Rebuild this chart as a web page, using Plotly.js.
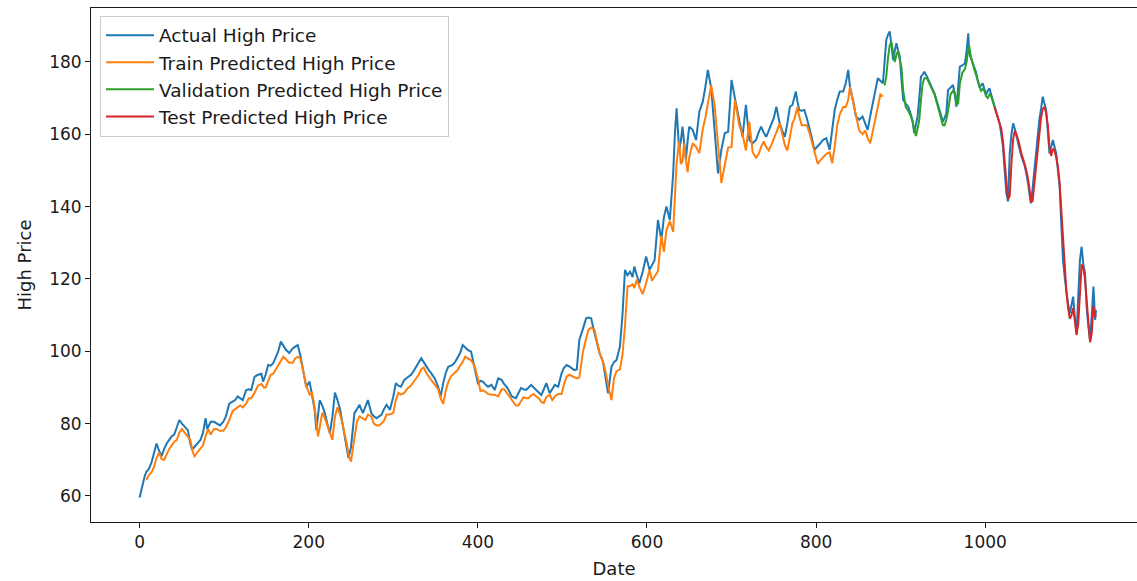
<!DOCTYPE html>
<html>
<head>
<meta charset="utf-8">
<script src="https://cdn.plot.ly/plotly-3.0.1.min.js"></script>
<style>html,body{margin:0;padding:0;background:#fff}#chart{width:1137px;height:581px}</style>
</head>
<body>
<div id="chart"></div>
<script>
const seriesNames = ["Actual High Price", "Train Predicted High Price", "Validation Predicted High Price", "Test Predicted High Price"];
const xTicks = [0, 200, 400, 600, 800, 1000];
const yTicks = [60, 80, 100, 120, 140, 160, 180];

const actualX = [0,3,6,8,11,14,17,20,23,26,29,32,35,38,41,44,47,50,53,57,60,62,65,68,72,75,78,80,84,88,91,95,99,102,106,110,113,116,119,122,126,129,132,136,140,144,146,149,152,155,158,161,164,167,170,173,177,181,184,187,190,193,197,201,204,207,209,213,216,219,222,225,228,231,234,237,240,242,245,247,250,254,257,260,264,267,270,274,277,280,283,286,289,292,296,300,303,306,309,313,317,321,324,327,330,333,336,339,342,345,349,353,356,359,362,365,368,370,373,376,379,382,385,388,392,396,400,403,406,409,412,416,420,424,428,431,434,437,440,445,448,451,454,457,460,463,466,469,472,475,478,481,485,488,491,495,499,502,505,508,511,514,517,520,524,528,531,534,538,541,544,548,551,554,558,561,564,568,571,574,577,580,583,585,588,591,595,599,603,606,609,613,617,620,623,627,631,633,635,638,640,642,644,646,648,650,654,658,662,666,669,672,676,680,684,688,692,696,700,704,707,709,713,717,721,725,729,732,735,738,741,744,747,750,753,757,760,763,766,769,772,774,776,778,780,783,786,789,792,795,798,802,805,808,812,816,819,822,825,828,832,835,838,840,844,847,851,855,858,861,864,867,870,873,876,879,881,883,885,887,889,891,893,895,897,899,901,903,906,909,912,914,916,918,920,922,924,926,928,931,934,937,940,943,946,948,950,952,954,956,959,962,964,966,968,970,973,976,978,980,981,983,985,987,989,991,993,995,997,999,1001,1003,1005,1007,1009,1011,1013,1015,1017,1019,1021,1023,1025,1027,1029,1031,1033,1035,1037,1040,1043,1047,1050,1052,1054,1056,1058,1061,1064,1066,1068,1070,1072,1074,1076,1078,1080,1082,1084,1086,1088,1090,1092,1094,1096,1098,1100,1102,1104,1106,1108,1110,1112,1114,1116,1118,1120,1122,1124,1126,1128,1130,1131];
const actualY = [59.6,63,65.5,66.7,67.5,69.2,72,74.5,72.5,71,73,74.5,75.5,76.5,77,79,81,80,79.2,78.2,74.5,72.8,73.6,74.5,75.5,77.5,81.5,78.5,80.5,80.5,80,79.5,80.5,82,85.5,86,86.5,87.5,87,86.5,89.3,89.5,89.3,93,93.5,93.8,91.6,93.5,96.2,96,96.7,98.5,100,102.7,101.5,100.4,99.5,100.8,101.3,101.7,99,95.3,90.2,91.6,88,83.8,78.2,86.5,85,82.9,80,77.3,82,88.6,86.5,84,80,77.3,73,70.5,73.5,82.9,84,85.2,82.9,84.5,86.5,82.9,82,81.5,82,82.4,84,85.2,83.8,87.5,91.2,90.5,90.2,92.1,92.8,93.5,94.5,95.7,97,98.1,97,95.7,94.8,93.9,92.5,90.2,87.5,91.2,94,95.7,96,96.2,97,98.1,99.5,101.7,101,100.4,99.9,95.7,91.2,91.8,91.6,90.8,90.2,90.7,89.3,92.5,92.1,91,90.2,89,87.5,87,88.5,89.8,89.5,89.3,90,90.7,90,89.3,88.5,87.9,89.5,91.2,88.4,89.5,90.7,90.2,93.9,95.5,96.2,95.8,95.3,94.8,95,103.1,106,109.1,109.3,109.1,105,102,99.5,97.1,93,88.4,95.7,97,97.6,101.3,110,122.5,121,122,120.5,123.4,121,118.8,122,126.2,122.5,124,125.2,136.3,130.8,137,140,136.3,149.2,160,167.2,155.7,158,162.1,157,152.9,158,162.1,161.2,158.4,166.3,169,173,177.8,172.7,162.1,149.2,155.7,160.3,160.7,175,169.9,166,164.4,159.3,168.1,158.4,157.5,158.4,160.5,162.1,160.5,159.3,161,163,164.5,167.6,163,161,159.3,163,167.6,168.1,170,171.8,169,166.7,166.5,166.7,164.5,162.1,159,155.7,156.6,157.5,158.4,158.9,155.7,161,166.7,169.5,171.8,171.8,174,177.8,173.2,169,165,164,164.9,163,161.2,165,168.6,172,175.5,174.8,174.1,180,186.1,187.5,188.4,185,180.5,183,185.2,183,181.5,175,169.5,168.5,167.6,165.5,163.9,160.3,162.5,164.9,170,175.9,176.5,177.3,176,174.5,173,171.3,169,166.7,165,163.5,164.5,165.8,172.2,173,173.6,171,167.6,173,178.7,179,179.6,183,187.9,182.4,181,179.6,178.5,177.3,175,173.2,173.5,174.1,172.5,170.9,172,172.7,171,169.5,167.5,165.8,164.5,163,160,156.6,150,143.7,141.4,154.7,160,163,161.5,159.8,156.5,153.8,151,147.4,144,140.9,145,150.1,157,164,167,170.4,168.5,166.7,161,154.7,156.5,158.4,156.5,154.7,150,145.5,135,125.2,120.5,116,113,110.5,113,115.1,109,105,115,125.2,128.9,124,121.6,112,106.8,103.1,110,117.9,108.7,111.4];

const trainX = [8,11,14,17,20,23,26,29,32,35,38,41,44,47,50,53,57,60,63,65,68,72,75,78,81,84,88,91,95,99,102,106,110,113,116,119,122,126,129,132,136,140,144,147,149,152,155,158,161,164,167,170,173,177,181,184,187,190,193,197,201,204,207,209,211,213,216,219,222,225,228,231,234,237,240,242,245,247,250,254,257,260,264,267,270,274,277,280,283,286,289,292,296,300,303,306,309,313,317,321,324,327,330,333,336,339,342,345,349,353,356,359,362,365,368,370,373,376,379,382,385,388,392,396,400,403,406,409,412,416,420,424,428,431,434,437,440,445,448,451,454,457,460,463,466,469,472,475,478,481,485,488,491,495,499,502,505,508,511,514,517,520,524,528,531,534,538,541,544,548,551,554,558,561,564,568,571,574,577,580,583,585,588,591,595,599,603,606,609,613,617,620,623,627,631,633,635,638,640,642,644,646,648,650,654,658,662,666,669,672,676,680,684,688,692,696,700,704,707,709,713,717,721,725,729,732,735,738,741,744,747,750,753,757,760,763,766,769,772,774,776,778,780,783,786,789,792,795,798,802,805,808,812,816,819,822,825,828,832,835,838,840,844,847,851,855,858,861,864,867,870,873,876,879];
const trainY = [64.5,65.8,66.5,68,70.5,72,70.2,70,71.5,73,74,75,75.5,77.5,78.5,77.5,76.5,75.5,72,71,72,73.2,74,76.5,78.5,77,78.5,78.5,78,78,79,81,83.5,84,84.5,85,84.5,85.5,87,87,88.5,90.5,91,90,90,92,93.5,93.8,95,96.5,97.5,98.5,97.8,96.8,96.8,98,98.5,98,95,90.5,88,88.5,84.5,80,76.5,79,83,81.5,79.5,77,75.5,82,84.5,82.5,80,77.5,74.5,71.5,69.5,76,80.5,82,81.5,81,82.5,82,80,79.5,79.5,80,80.8,82.5,82.5,83,86.5,88.5,88,88.5,89.8,90.5,91.5,92.5,93.5,95,95.5,94,92.8,92,90.8,89.5,87,85.5,89,91.5,93,93.5,94,94.8,96,97,98.5,98,97.5,96,92.5,89,89.2,88.8,88.2,88,88,87.5,89.5,89.5,88.5,87.8,86.8,85,85,86,87.3,87,87,87.8,88.2,87.5,87,86,85.7,87.3,88,86.5,87.5,88.2,88.2,91,93,93.5,93.2,92.8,92.5,92.8,99.5,103.5,106,106.5,106,102.5,99.5,97,94.5,90.5,86.5,92.5,94.5,95,99,107,118,118,118.5,117.5,119.8,117.8,115.8,118.8,122.5,119.5,120.8,122.2,132,127.5,133.5,136,133,145,152,158,151.8,152.5,157.5,153,149.5,153.5,157.5,156.5,154.8,161.5,164.5,168.5,173.5,168,158,146.5,151.5,156.3,156.5,169.5,165.5,162.5,160,155.5,163.5,155,153.5,154.5,156.5,158,156.5,155.5,157,159,160.5,163,159.5,157,155.5,159,163,164,165.5,167.5,165,162.5,162.5,162.5,160.5,158,155,151.8,152.8,153.5,154.5,155,152,156.5,162.5,165.5,167.5,167.5,169.5,173,168.5,165,161,160,161,159,157.5,160.8,164.5,167.7,171,170.5];

const validX = [881,883,885,887,889,891,893,895,897,899,901,903,906,909,912,914,916,918,920,922,924,926,928,931,934,937,940,943,946,948,950,952,954,956,959,962,964,966,968,970,973,976,978,980,981,983,985,987,989,991,993,995,997,999,1001,1003,1005,1007,1009,1011];
const validY = [173.5,176,181,184.5,185.5,182.5,180,182,183,180.5,178.5,172,167.5,166.5,165,163.5,161.5,159.5,161.5,164,169.5,174,175.5,175.5,174,172.5,171,168.5,166,164,162.5,162.5,164,166.5,171,172,171.5,168.5,168.5,174,177,178,180,183.5,184.5,181.5,179.5,178,176.5,175,173,172,172.5,172,170.5,170,171,170.5,169,167.5];

const testX = [1011,1013,1015,1017,1019,1021,1023,1025,1027,1029,1031,1033,1035,1037,1040,1043,1047,1050,1052,1054,1056,1058,1061,1064,1066,1068,1070,1072,1074,1076,1078,1080,1082,1084,1086,1088,1090,1092,1094,1096,1098,1100,1102,1104,1106,1108,1110,1112,1114,1116,1118,1120,1122,1124,1126,1128,1130,1131];
const testY = [167.5,166,164.5,163,161.5,158,153.5,147,142,143,152,158.5,161,160,157.5,154.5,151.5,148.5,145.5,141.5,141.5,146,153,160,164.5,167,167.5,166,162.5,156.5,154,156,155.5,153.5,151,146.5,139,128.5,121,116.5,112,109,110,112,108.5,104.5,107.5,118,124,123,120,114,107,102.5,105,112.5,109.5,110];

const colors = ["#1f77b4", "#ff7f0e", "#2ca02c", "#d62728"];
const xs = [actualX, trainX, validX, testX];
const ys = [actualY, trainY, validY, testY];

const traces = seriesNames.map((name, i) => ({
  type: "scatter",
  mode: "lines",
  name: name,
  legendgroup: "g" + i,
  x: xs[i],
  y: ys[i],
  line: {color: colors[i], width: 2}
}));

const ff = "DejaVu Sans, sans-serif";
const txt = "#1a1a1a";

const layout = {
  width: 1137,
  height: 581,
  margin: {l: 91, r: 0, t: 8, b: 59},
  paper_bgcolor: "#ffffff",
  plot_bgcolor: "#ffffff",
  font: {family: ff, size: 17, color: txt},
  showlegend: true,
  legend: {
    x: 0.0086, y: 0.985, xanchor: "left", yanchor: "top",
    bgcolor: "rgba(255,255,255,0.9)",
    bordercolor: "#cccccc", borderwidth: 1,
    font: {family: ff, size: 18.5, color: txt},
    traceorder: "normal",
    tracegroupgap: 2,
    itemwidth: 48
  },
  xaxis: {
    range: [-57.5, 1179.5],
    tickvals: xTicks,
    ticktext: xTicks.map(String),
    ticks: "outside", ticklen: 5, tickwidth: 1, tickcolor: txt,
    showline: true, linecolor: txt, linewidth: 1, mirror: true,
    showgrid: false, zeroline: false,
    tickfont: {family: ff, size: 17, color: txt},
    title: {text: "Date", font: {family: ff, size: 18, color: txt}, standoff: 10}
  },
  yaxis: {
    range: [52.8, 194.9],
    tickvals: yTicks,
    ticktext: yTicks.map(String),
    ticks: "outside", ticklen: 5, tickwidth: 1, tickcolor: txt,
    showline: true, linecolor: txt, linewidth: 1, mirror: false,
    showgrid: false, zeroline: false,
    tickfont: {family: ff, size: 17, color: txt},
    title: {text: "High Price", font: {family: ff, size: 18, color: txt}, standoff: 12}
  }
};

Plotly.newPlot("chart", traces, layout, {displayModeBar: false, staticPlot: true});
</script>
</body>
</html>
